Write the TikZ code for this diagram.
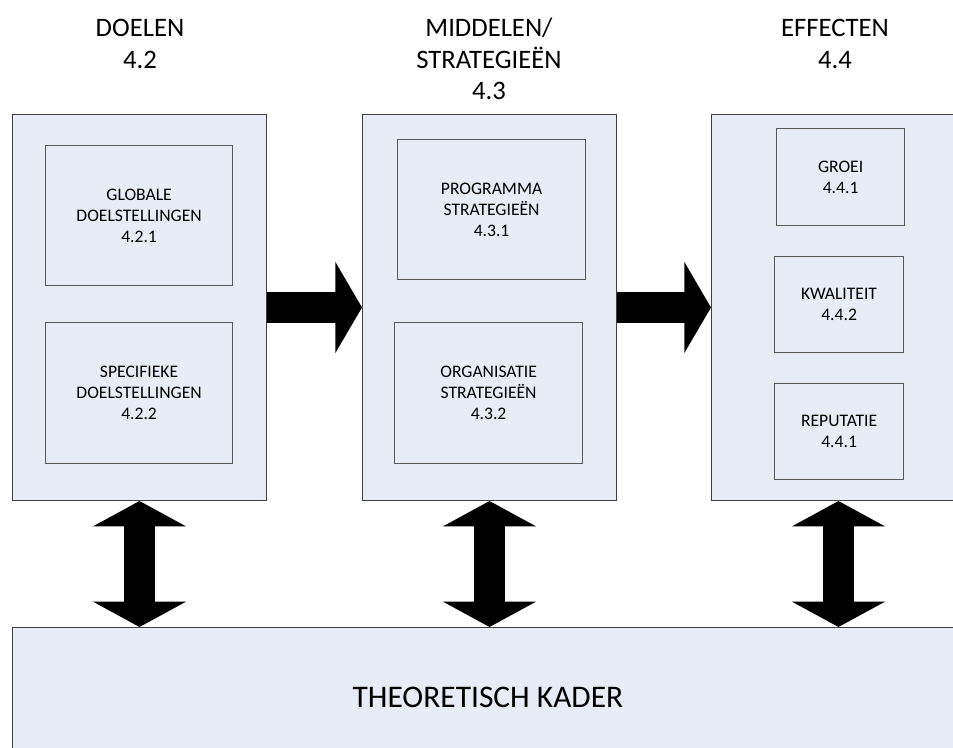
\documentclass[tikz,border=0pt]{standalone}
\usepackage{fontspec}
\setmainfont{Carlito}
\usepackage{tikz}
\usetikzlibrary{arrows.meta}

\definecolor{boxfill}{RGB}{232,236,247}
\definecolor{boxline}{RGB}{64,64,64}
\definecolor{innerline}{RGB}{89,89,89}

\tikzset{
  column/.style={draw=boxline, fill=boxfill, line width=0.75pt, anchor=north west,
    minimum width=190.5pt, minimum height=289.5pt, inner sep=0pt},
  item/.style={draw=innerline, fill=boxfill, line width=0.9pt, anchor=north west,
    align=center, inner sep=0pt, font=\fontsize{13.2}{15.8}\selectfont},
  heading/.style={align=center, font=\fontsize{20}{23.5}\selectfont},
  blockarrow/.style={line width=23.25pt, black,
    -{Triangle[length=20pt,width=67.5pt]}},
  twoway/.style={line width=23.5pt, black,
    {Triangle[length=19pt,width=69pt]}-{Triangle[length=19pt,width=69pt]}}
}

\begin{document}
\begin{tikzpicture}[x=0.75pt,y=-0.75pt]

% Frame of the picture
\clip (0,0) rectangle (953,747);

% Headings above the columns
\node[heading] (hdoel) at (140,44) {DOELEN\\4.2};
\node[heading] (hmid) at (489,59) {MIDDELEN/\\STRATEGIEËN\\4.3};
\node[heading] (heff) at (835,44) {EFFECTEN\\4.4};

% The three columns
\node[column] (doel) at (12,114) {};
\node[column] (mid) at (362,114) {};
\node[column] (eff) at (711,114) {};

% Boxes in column DOELEN
\node[item, minimum width=140.25pt, minimum height=105pt] (glob) at (45,145)
  {GLOBALE\\DOELSTELLINGEN\\4.2.1};
\node[item, minimum width=140.25pt, minimum height=105.75pt] (spec) at (45,322)
  {SPECIFIEKE\\DOELSTELLINGEN\\4.2.2};

% Boxes in column MIDDELEN
\node[item, minimum width=141pt, minimum height=105pt] (prog) at (397,139)
  {PROGRAMMA\\STRATEGIEËN\\4.3.1};
\node[item, minimum width=141pt, minimum height=105.75pt] (org) at (394,322)
  {ORGANISATIE\\STRATEGIEËN\\4.3.2};

% Boxes in column EFFECTEN
\node[item, minimum width=96pt, minimum height=72.75pt] (groei) at (776,128)
  {GROEI\\4.4.1};
\node[item, minimum width=96.75pt, minimum height=72pt] (kwal) at (774,256)
  {KWALITEIT\\4.4.2};
\node[item, minimum width=96.75pt, minimum height=72pt] (rep) at (774,383)
  {REPUTATIE\\4.4.1};

% Theoretical frame at the bottom
\node[draw=boxline, fill=boxfill, line width=0.75pt, anchor=north west,
  minimum width=720pt, minimum height=105pt, inner sep=0pt] (kader) at (12,627) {};
\node[font=\fontsize{23.6}{28}\selectfont] (kadertxt) at (488,697) {THEORETISCH KADER};

% Arrows between the columns
\draw[blockarrow] (doel.east) -- (mid.west);
\draw[blockarrow] (mid.east) -- (eff.west);

% Arrows to the frame
\draw[twoway] (doel.south) -- (doel.south |- kader.north);
\draw[twoway] (mid.south) -- (mid.south |- kader.north);
\draw[twoway] (eff.south) -- (eff.south |- kader.north);

\end{tikzpicture}
\end{document}
